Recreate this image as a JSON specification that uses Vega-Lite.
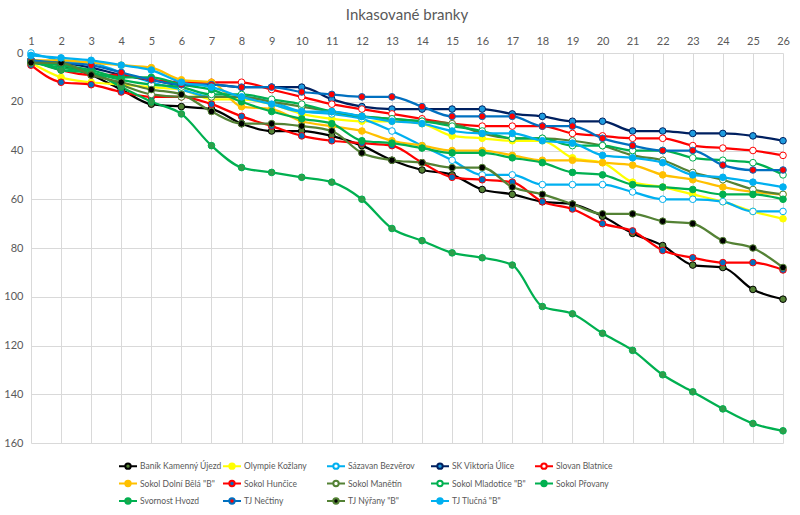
{
  "$schema": "https://vega.github.io/schema/vega-lite/v6.json",
  "width": 752,
  "height": 390,
  "autosize": "none",
  "padding": {"left": 31, "top": 53, "right": 17, "bottom": 72},
  "background": "white",
  "title": {"text": "Inkasované branky", "font": "Lato", "fontSize": 15, "fontWeight": "normal", "color": "#595959", "offset": 12, "anchor": "middle"},
  "config": {
    "view": {"stroke": null},
    "axis": {"labelFont": "Lato", "labelFontSize": 11, "labelColor": "#595959", "gridColor": "#D9D9D9", "gridWidth": 1, "domain": false, "ticks": false}
  },
  "datasets": {
    "raw": [
      {"team": "Baník Kamenný Újezd", "round": 1, "goals": 3}, {"team": "Baník Kamenný Újezd", "round": 2, "goals": 5}, {"team": "Baník Kamenný Újezd", "round": 3, "goals": 9}, {"team": "Baník Kamenný Újezd", "round": 4, "goals": 15}, {"team": "Baník Kamenný Újezd", "round": 5, "goals": 21}, {"team": "Baník Kamenný Újezd", "round": 6, "goals": 22}, {"team": "Baník Kamenný Újezd", "round": 7, "goals": 23}, {"team": "Baník Kamenný Újezd", "round": 8, "goals": 29}, {"team": "Baník Kamenný Újezd", "round": 9, "goals": 32}, {"team": "Baník Kamenný Újezd", "round": 10, "goals": 32}, {"team": "Baník Kamenný Újezd", "round": 11, "goals": 34}, {"team": "Baník Kamenný Újezd", "round": 12, "goals": 38}, {"team": "Baník Kamenný Újezd", "round": 13, "goals": 44}, {"team": "Baník Kamenný Újezd", "round": 14, "goals": 48}, {"team": "Baník Kamenný Újezd", "round": 15, "goals": 50}, {"team": "Baník Kamenný Újezd", "round": 16, "goals": 56}, {"team": "Baník Kamenný Újezd", "round": 17, "goals": 58}, {"team": "Baník Kamenný Újezd", "round": 18, "goals": 61}, {"team": "Baník Kamenný Újezd", "round": 19, "goals": 62}, {"team": "Baník Kamenný Újezd", "round": 20, "goals": 67}, {"team": "Baník Kamenný Újezd", "round": 21, "goals": 74}, {"team": "Baník Kamenný Újezd", "round": 22, "goals": 79}, {"team": "Baník Kamenný Újezd", "round": 23, "goals": 87}, {"team": "Baník Kamenný Újezd", "round": 24, "goals": 88}, {"team": "Baník Kamenný Újezd", "round": 25, "goals": 97}, {"team": "Baník Kamenný Újezd", "round": 26, "goals": 101},
      {"team": "Olympie Kožlany", "round": 1, "goals": 4}, {"team": "Olympie Kožlany", "round": 2, "goals": 10}, {"team": "Olympie Kožlany", "round": 3, "goals": 12}, {"team": "Olympie Kožlany", "round": 4, "goals": 13}, {"team": "Olympie Kožlany", "round": 5, "goals": 14}, {"team": "Olympie Kožlany", "round": 6, "goals": 15}, {"team": "Olympie Kožlany", "round": 7, "goals": 19}, {"team": "Olympie Kožlany", "round": 8, "goals": 19}, {"team": "Olympie Kožlany", "round": 9, "goals": 21}, {"team": "Olympie Kožlany", "round": 10, "goals": 25}, {"team": "Olympie Kožlany", "round": 11, "goals": 27}, {"team": "Olympie Kožlany", "round": 12, "goals": 28}, {"team": "Olympie Kožlany", "round": 13, "goals": 28}, {"team": "Olympie Kožlany", "round": 14, "goals": 29}, {"team": "Olympie Kožlany", "round": 15, "goals": 34}, {"team": "Olympie Kožlany", "round": 16, "goals": 35}, {"team": "Olympie Kožlany", "round": 17, "goals": 36}, {"team": "Olympie Kožlany", "round": 18, "goals": 36}, {"team": "Olympie Kožlany", "round": 19, "goals": 43}, {"team": "Olympie Kožlany", "round": 20, "goals": 45}, {"team": "Olympie Kožlany", "round": 21, "goals": 53}, {"team": "Olympie Kožlany", "round": 22, "goals": 55}, {"team": "Olympie Kožlany", "round": 23, "goals": 58}, {"team": "Olympie Kožlany", "round": 24, "goals": 61}, {"team": "Olympie Kožlany", "round": 25, "goals": 65}, {"team": "Olympie Kožlany", "round": 26, "goals": 68},
      {"team": "Sázavan Bezvěrov", "round": 1, "goals": 0}, {"team": "Sázavan Bezvěrov", "round": 2, "goals": 3}, {"team": "Sázavan Bezvěrov", "round": 3, "goals": 4}, {"team": "Sázavan Bezvěrov", "round": 4, "goals": 8}, {"team": "Sázavan Bezvěrov", "round": 5, "goals": 12}, {"team": "Sázavan Bezvěrov", "round": 6, "goals": 15}, {"team": "Sázavan Bezvěrov", "round": 7, "goals": 18}, {"team": "Sázavan Bezvěrov", "round": 8, "goals": 18}, {"team": "Sázavan Bezvěrov", "round": 9, "goals": 20}, {"team": "Sázavan Bezvěrov", "round": 10, "goals": 24}, {"team": "Sázavan Bezvěrov", "round": 11, "goals": 25}, {"team": "Sázavan Bezvěrov", "round": 12, "goals": 27}, {"team": "Sázavan Bezvěrov", "round": 13, "goals": 32}, {"team": "Sázavan Bezvěrov", "round": 14, "goals": 38}, {"team": "Sázavan Bezvěrov", "round": 15, "goals": 44}, {"team": "Sázavan Bezvěrov", "round": 16, "goals": 50}, {"team": "Sázavan Bezvěrov", "round": 17, "goals": 50}, {"team": "Sázavan Bezvěrov", "round": 18, "goals": 54}, {"team": "Sázavan Bezvěrov", "round": 19, "goals": 54}, {"team": "Sázavan Bezvěrov", "round": 20, "goals": 54}, {"team": "Sázavan Bezvěrov", "round": 21, "goals": 57}, {"team": "Sázavan Bezvěrov", "round": 22, "goals": 60}, {"team": "Sázavan Bezvěrov", "round": 23, "goals": 60}, {"team": "Sázavan Bezvěrov", "round": 24, "goals": 61}, {"team": "Sázavan Bezvěrov", "round": 25, "goals": 65}, {"team": "Sázavan Bezvěrov", "round": 26, "goals": 65},
      {"team": "SK Viktoria Úlice", "round": 1, "goals": 3}, {"team": "SK Viktoria Úlice", "round": 2, "goals": 4}, {"team": "SK Viktoria Úlice", "round": 3, "goals": 6}, {"team": "SK Viktoria Úlice", "round": 4, "goals": 9}, {"team": "SK Viktoria Úlice", "round": 5, "goals": 11}, {"team": "SK Viktoria Úlice", "round": 6, "goals": 13}, {"team": "SK Viktoria Úlice", "round": 7, "goals": 13}, {"team": "SK Viktoria Úlice", "round": 8, "goals": 14}, {"team": "SK Viktoria Úlice", "round": 9, "goals": 14}, {"team": "SK Viktoria Úlice", "round": 10, "goals": 14}, {"team": "SK Viktoria Úlice", "round": 11, "goals": 19}, {"team": "SK Viktoria Úlice", "round": 12, "goals": 22}, {"team": "SK Viktoria Úlice", "round": 13, "goals": 23}, {"team": "SK Viktoria Úlice", "round": 14, "goals": 23}, {"team": "SK Viktoria Úlice", "round": 15, "goals": 23}, {"team": "SK Viktoria Úlice", "round": 16, "goals": 23}, {"team": "SK Viktoria Úlice", "round": 17, "goals": 25}, {"team": "SK Viktoria Úlice", "round": 18, "goals": 26}, {"team": "SK Viktoria Úlice", "round": 19, "goals": 28}, {"team": "SK Viktoria Úlice", "round": 20, "goals": 28}, {"team": "SK Viktoria Úlice", "round": 21, "goals": 32}, {"team": "SK Viktoria Úlice", "round": 22, "goals": 32}, {"team": "SK Viktoria Úlice", "round": 23, "goals": 33}, {"team": "SK Viktoria Úlice", "round": 24, "goals": 33}, {"team": "SK Viktoria Úlice", "round": 25, "goals": 34}, {"team": "SK Viktoria Úlice", "round": 26, "goals": 36},
      {"team": "Slovan Blatnice", "round": 1, "goals": 3}, {"team": "Slovan Blatnice", "round": 2, "goals": 7}, {"team": "Slovan Blatnice", "round": 3, "goals": 9}, {"team": "Slovan Blatnice", "round": 4, "goals": 9}, {"team": "Slovan Blatnice", "round": 5, "goals": 11}, {"team": "Slovan Blatnice", "round": 6, "goals": 12}, {"team": "Slovan Blatnice", "round": 7, "goals": 12}, {"team": "Slovan Blatnice", "round": 8, "goals": 12}, {"team": "Slovan Blatnice", "round": 9, "goals": 15}, {"team": "Slovan Blatnice", "round": 10, "goals": 18}, {"team": "Slovan Blatnice", "round": 11, "goals": 21}, {"team": "Slovan Blatnice", "round": 12, "goals": 23}, {"team": "Slovan Blatnice", "round": 13, "goals": 25}, {"team": "Slovan Blatnice", "round": 14, "goals": 27}, {"team": "Slovan Blatnice", "round": 15, "goals": 29}, {"team": "Slovan Blatnice", "round": 16, "goals": 30}, {"team": "Slovan Blatnice", "round": 17, "goals": 30}, {"team": "Slovan Blatnice", "round": 18, "goals": 30}, {"team": "Slovan Blatnice", "round": 19, "goals": 33}, {"team": "Slovan Blatnice", "round": 20, "goals": 34}, {"team": "Slovan Blatnice", "round": 21, "goals": 35}, {"team": "Slovan Blatnice", "round": 22, "goals": 35}, {"team": "Slovan Blatnice", "round": 23, "goals": 38}, {"team": "Slovan Blatnice", "round": 24, "goals": 39}, {"team": "Slovan Blatnice", "round": 25, "goals": 40}, {"team": "Slovan Blatnice", "round": 26, "goals": 42},
      {"team": "Sokol Dolní Bělá \"B\"", "round": 1, "goals": 3}, {"team": "Sokol Dolní Bělá \"B\"", "round": 2, "goals": 3}, {"team": "Sokol Dolní Bělá \"B\"", "round": 3, "goals": 4}, {"team": "Sokol Dolní Bělá \"B\"", "round": 4, "goals": 5}, {"team": "Sokol Dolní Bělá \"B\"", "round": 5, "goals": 6}, {"team": "Sokol Dolní Bělá \"B\"", "round": 6, "goals": 11}, {"team": "Sokol Dolní Bělá \"B\"", "round": 7, "goals": 12}, {"team": "Sokol Dolní Bělá \"B\"", "round": 8, "goals": 22}, {"team": "Sokol Dolní Bělá \"B\"", "round": 9, "goals": 23}, {"team": "Sokol Dolní Bělá \"B\"", "round": 10, "goals": 28}, {"team": "Sokol Dolní Bělá \"B\"", "round": 11, "goals": 30}, {"team": "Sokol Dolní Bělá \"B\"", "round": 12, "goals": 32}, {"team": "Sokol Dolní Bělá \"B\"", "round": 13, "goals": 36}, {"team": "Sokol Dolní Bělá \"B\"", "round": 14, "goals": 38}, {"team": "Sokol Dolní Bělá \"B\"", "round": 15, "goals": 40}, {"team": "Sokol Dolní Bělá \"B\"", "round": 16, "goals": 40}, {"team": "Sokol Dolní Bělá \"B\"", "round": 17, "goals": 42}, {"team": "Sokol Dolní Bělá \"B\"", "round": 18, "goals": 44}, {"team": "Sokol Dolní Bělá \"B\"", "round": 19, "goals": 44}, {"team": "Sokol Dolní Bělá \"B\"", "round": 20, "goals": 45}, {"team": "Sokol Dolní Bělá \"B\"", "round": 21, "goals": 46}, {"team": "Sokol Dolní Bělá \"B\"", "round": 22, "goals": 50}, {"team": "Sokol Dolní Bělá \"B\"", "round": 23, "goals": 52}, {"team": "Sokol Dolní Bělá \"B\"", "round": 24, "goals": 55}, {"team": "Sokol Dolní Bělá \"B\"", "round": 25, "goals": 57}, {"team": "Sokol Dolní Bělá \"B\"", "round": 26, "goals": 58},
      {"team": "Sokol Hunčice", "round": 1, "goals": 5}, {"team": "Sokol Hunčice", "round": 2, "goals": 12}, {"team": "Sokol Hunčice", "round": 3, "goals": 13}, {"team": "Sokol Hunčice", "round": 4, "goals": 16}, {"team": "Sokol Hunčice", "round": 5, "goals": 18}, {"team": "Sokol Hunčice", "round": 6, "goals": 18}, {"team": "Sokol Hunčice", "round": 7, "goals": 21}, {"team": "Sokol Hunčice", "round": 8, "goals": 26}, {"team": "Sokol Hunčice", "round": 9, "goals": 30}, {"team": "Sokol Hunčice", "round": 10, "goals": 34}, {"team": "Sokol Hunčice", "round": 11, "goals": 36}, {"team": "Sokol Hunčice", "round": 12, "goals": 37}, {"team": "Sokol Hunčice", "round": 13, "goals": 38}, {"team": "Sokol Hunčice", "round": 14, "goals": 45}, {"team": "Sokol Hunčice", "round": 15, "goals": 51}, {"team": "Sokol Hunčice", "round": 16, "goals": 52}, {"team": "Sokol Hunčice", "round": 17, "goals": 53}, {"team": "Sokol Hunčice", "round": 18, "goals": 61}, {"team": "Sokol Hunčice", "round": 19, "goals": 64}, {"team": "Sokol Hunčice", "round": 20, "goals": 70}, {"team": "Sokol Hunčice", "round": 21, "goals": 73}, {"team": "Sokol Hunčice", "round": 22, "goals": 81}, {"team": "Sokol Hunčice", "round": 23, "goals": 84}, {"team": "Sokol Hunčice", "round": 24, "goals": 86}, {"team": "Sokol Hunčice", "round": 25, "goals": 86}, {"team": "Sokol Hunčice", "round": 26, "goals": 89},
      {"team": "Sokol Manětín", "round": 1, "goals": 3}, {"team": "Sokol Manětín", "round": 2, "goals": 5}, {"team": "Sokol Manětín", "round": 3, "goals": 8}, {"team": "Sokol Manětín", "round": 4, "goals": 13}, {"team": "Sokol Manětín", "round": 5, "goals": 17}, {"team": "Sokol Manětín", "round": 6, "goals": 18}, {"team": "Sokol Manětín", "round": 7, "goals": 18}, {"team": "Sokol Manětín", "round": 8, "goals": 18}, {"team": "Sokol Manětín", "round": 9, "goals": 20}, {"team": "Sokol Manětín", "round": 10, "goals": 22}, {"team": "Sokol Manětín", "round": 11, "goals": 24}, {"team": "Sokol Manětín", "round": 12, "goals": 26}, {"team": "Sokol Manětín", "round": 13, "goals": 27}, {"team": "Sokol Manětín", "round": 14, "goals": 28}, {"team": "Sokol Manětín", "round": 15, "goals": 29}, {"team": "Sokol Manětín", "round": 16, "goals": 33}, {"team": "Sokol Manětín", "round": 17, "goals": 35}, {"team": "Sokol Manětín", "round": 18, "goals": 35}, {"team": "Sokol Manětín", "round": 19, "goals": 36}, {"team": "Sokol Manětín", "round": 20, "goals": 38}, {"team": "Sokol Manětín", "round": 21, "goals": 42}, {"team": "Sokol Manětín", "round": 22, "goals": 44}, {"team": "Sokol Manětín", "round": 23, "goals": 49}, {"team": "Sokol Manětín", "round": 24, "goals": 52}, {"team": "Sokol Manětín", "round": 25, "goals": 56}, {"team": "Sokol Manětín", "round": 26, "goals": 58},
      {"team": "Sokol Mladotice \"B\"", "round": 1, "goals": 4}, {"team": "Sokol Mladotice \"B\"", "round": 2, "goals": 6}, {"team": "Sokol Mladotice \"B\"", "round": 3, "goals": 8}, {"team": "Sokol Mladotice \"B\"", "round": 4, "goals": 11}, {"team": "Sokol Mladotice \"B\"", "round": 5, "goals": 13}, {"team": "Sokol Mladotice \"B\"", "round": 6, "goals": 14}, {"team": "Sokol Mladotice \"B\"", "round": 7, "goals": 17}, {"team": "Sokol Mladotice \"B\"", "round": 8, "goals": 17}, {"team": "Sokol Mladotice \"B\"", "round": 9, "goals": 19}, {"team": "Sokol Mladotice \"B\"", "round": 10, "goals": 21}, {"team": "Sokol Mladotice \"B\"", "round": 11, "goals": 24}, {"team": "Sokol Mladotice \"B\"", "round": 12, "goals": 26}, {"team": "Sokol Mladotice \"B\"", "round": 13, "goals": 27}, {"team": "Sokol Mladotice \"B\"", "round": 14, "goals": 28}, {"team": "Sokol Mladotice \"B\"", "round": 15, "goals": 30}, {"team": "Sokol Mladotice \"B\"", "round": 16, "goals": 32}, {"team": "Sokol Mladotice \"B\"", "round": 17, "goals": 35}, {"team": "Sokol Mladotice \"B\"", "round": 18, "goals": 35}, {"team": "Sokol Mladotice \"B\"", "round": 19, "goals": 38}, {"team": "Sokol Mladotice \"B\"", "round": 20, "goals": 38}, {"team": "Sokol Mladotice \"B\"", "round": 21, "goals": 40}, {"team": "Sokol Mladotice \"B\"", "round": 22, "goals": 40}, {"team": "Sokol Mladotice \"B\"", "round": 23, "goals": 43}, {"team": "Sokol Mladotice \"B\"", "round": 24, "goals": 44}, {"team": "Sokol Mladotice \"B\"", "round": 25, "goals": 45}, {"team": "Sokol Mladotice \"B\"", "round": 26, "goals": 50},
      {"team": "Sokol Přovany", "round": 1, "goals": 4}, {"team": "Sokol Přovany", "round": 2, "goals": 5}, {"team": "Sokol Přovany", "round": 3, "goals": 7}, {"team": "Sokol Přovany", "round": 4, "goals": 10}, {"team": "Sokol Přovany", "round": 5, "goals": 10}, {"team": "Sokol Přovany", "round": 6, "goals": 13}, {"team": "Sokol Přovany", "round": 7, "goals": 15}, {"team": "Sokol Přovany", "round": 8, "goals": 20}, {"team": "Sokol Přovany", "round": 9, "goals": 24}, {"team": "Sokol Přovany", "round": 10, "goals": 27}, {"team": "Sokol Přovany", "round": 11, "goals": 29}, {"team": "Sokol Přovany", "round": 12, "goals": 36}, {"team": "Sokol Přovany", "round": 13, "goals": 37}, {"team": "Sokol Přovany", "round": 14, "goals": 39}, {"team": "Sokol Přovany", "round": 15, "goals": 41}, {"team": "Sokol Přovany", "round": 16, "goals": 41}, {"team": "Sokol Přovany", "round": 17, "goals": 43}, {"team": "Sokol Přovany", "round": 18, "goals": 45}, {"team": "Sokol Přovany", "round": 19, "goals": 49}, {"team": "Sokol Přovany", "round": 20, "goals": 50}, {"team": "Sokol Přovany", "round": 21, "goals": 54}, {"team": "Sokol Přovany", "round": 22, "goals": 55}, {"team": "Sokol Přovany", "round": 23, "goals": 56}, {"team": "Sokol Přovany", "round": 24, "goals": 58}, {"team": "Sokol Přovany", "round": 25, "goals": 58}, {"team": "Sokol Přovany", "round": 26, "goals": 60},
      {"team": "Svornost Hvozd", "round": 1, "goals": 3}, {"team": "Svornost Hvozd", "round": 2, "goals": 7}, {"team": "Svornost Hvozd", "round": 3, "goals": 8}, {"team": "Svornost Hvozd", "round": 4, "goals": 14}, {"team": "Svornost Hvozd", "round": 5, "goals": 20}, {"team": "Svornost Hvozd", "round": 6, "goals": 25}, {"team": "Svornost Hvozd", "round": 7, "goals": 38}, {"team": "Svornost Hvozd", "round": 8, "goals": 47}, {"team": "Svornost Hvozd", "round": 9, "goals": 49}, {"team": "Svornost Hvozd", "round": 10, "goals": 51}, {"team": "Svornost Hvozd", "round": 11, "goals": 53}, {"team": "Svornost Hvozd", "round": 12, "goals": 60}, {"team": "Svornost Hvozd", "round": 13, "goals": 72}, {"team": "Svornost Hvozd", "round": 14, "goals": 77}, {"team": "Svornost Hvozd", "round": 15, "goals": 82}, {"team": "Svornost Hvozd", "round": 16, "goals": 84}, {"team": "Svornost Hvozd", "round": 17, "goals": 87}, {"team": "Svornost Hvozd", "round": 18, "goals": 104}, {"team": "Svornost Hvozd", "round": 19, "goals": 107}, {"team": "Svornost Hvozd", "round": 20, "goals": 115}, {"team": "Svornost Hvozd", "round": 21, "goals": 122}, {"team": "Svornost Hvozd", "round": 22, "goals": 132}, {"team": "Svornost Hvozd", "round": 23, "goals": 139}, {"team": "Svornost Hvozd", "round": 24, "goals": 146}, {"team": "Svornost Hvozd", "round": 25, "goals": 152}, {"team": "Svornost Hvozd", "round": 26, "goals": 155},
      {"team": "TJ Nečtiny", "round": 1, "goals": 3}, {"team": "TJ Nečtiny", "round": 2, "goals": 4}, {"team": "TJ Nečtiny", "round": 3, "goals": 5}, {"team": "TJ Nečtiny", "round": 4, "goals": 8}, {"team": "TJ Nečtiny", "round": 5, "goals": 11}, {"team": "TJ Nečtiny", "round": 6, "goals": 13}, {"team": "TJ Nečtiny", "round": 7, "goals": 13}, {"team": "TJ Nečtiny", "round": 8, "goals": 14}, {"team": "TJ Nečtiny", "round": 9, "goals": 14}, {"team": "TJ Nečtiny", "round": 10, "goals": 16}, {"team": "TJ Nečtiny", "round": 11, "goals": 17}, {"team": "TJ Nečtiny", "round": 12, "goals": 18}, {"team": "TJ Nečtiny", "round": 13, "goals": 18}, {"team": "TJ Nečtiny", "round": 14, "goals": 22}, {"team": "TJ Nečtiny", "round": 15, "goals": 26}, {"team": "TJ Nečtiny", "round": 16, "goals": 26}, {"team": "TJ Nečtiny", "round": 17, "goals": 26}, {"team": "TJ Nečtiny", "round": 18, "goals": 30}, {"team": "TJ Nečtiny", "round": 19, "goals": 30}, {"team": "TJ Nečtiny", "round": 20, "goals": 35}, {"team": "TJ Nečtiny", "round": 21, "goals": 38}, {"team": "TJ Nečtiny", "round": 22, "goals": 40}, {"team": "TJ Nečtiny", "round": 23, "goals": 40}, {"team": "TJ Nečtiny", "round": 24, "goals": 46}, {"team": "TJ Nečtiny", "round": 25, "goals": 48}, {"team": "TJ Nečtiny", "round": 26, "goals": 48},
      {"team": "TJ Nýřany \"B\"", "round": 1, "goals": 4}, {"team": "TJ Nýřany \"B\"", "round": 2, "goals": 4}, {"team": "TJ Nýřany \"B\"", "round": 3, "goals": 9}, {"team": "TJ Nýřany \"B\"", "round": 4, "goals": 12}, {"team": "TJ Nýřany \"B\"", "round": 5, "goals": 15}, {"team": "TJ Nýřany \"B\"", "round": 6, "goals": 17}, {"team": "TJ Nýřany \"B\"", "round": 7, "goals": 24}, {"team": "TJ Nýřany \"B\"", "round": 8, "goals": 29}, {"team": "TJ Nýřany \"B\"", "round": 9, "goals": 29}, {"team": "TJ Nýřany \"B\"", "round": 10, "goals": 30}, {"team": "TJ Nýřany \"B\"", "round": 11, "goals": 32}, {"team": "TJ Nýřany \"B\"", "round": 12, "goals": 41}, {"team": "TJ Nýřany \"B\"", "round": 13, "goals": 44}, {"team": "TJ Nýřany \"B\"", "round": 14, "goals": 45}, {"team": "TJ Nýřany \"B\"", "round": 15, "goals": 47}, {"team": "TJ Nýřany \"B\"", "round": 16, "goals": 47}, {"team": "TJ Nýřany \"B\"", "round": 17, "goals": 55}, {"team": "TJ Nýřany \"B\"", "round": 18, "goals": 58}, {"team": "TJ Nýřany \"B\"", "round": 19, "goals": 62}, {"team": "TJ Nýřany \"B\"", "round": 20, "goals": 66}, {"team": "TJ Nýřany \"B\"", "round": 21, "goals": 66}, {"team": "TJ Nýřany \"B\"", "round": 22, "goals": 69}, {"team": "TJ Nýřany \"B\"", "round": 23, "goals": 70}, {"team": "TJ Nýřany \"B\"", "round": 24, "goals": 77}, {"team": "TJ Nýřany \"B\"", "round": 25, "goals": 80}, {"team": "TJ Nýřany \"B\"", "round": 26, "goals": 88},
      {"team": "TJ Tlučná \"B\"", "round": 1, "goals": 1}, {"team": "TJ Tlučná \"B\"", "round": 2, "goals": 2}, {"team": "TJ Tlučná \"B\"", "round": 3, "goals": 3}, {"team": "TJ Tlučná \"B\"", "round": 4, "goals": 5}, {"team": "TJ Tlučná \"B\"", "round": 5, "goals": 7}, {"team": "TJ Tlučná \"B\"", "round": 6, "goals": 12}, {"team": "TJ Tlučná \"B\"", "round": 7, "goals": 14}, {"team": "TJ Tlučná \"B\"", "round": 8, "goals": 18}, {"team": "TJ Tlučná \"B\"", "round": 9, "goals": 21}, {"team": "TJ Tlučná \"B\"", "round": 10, "goals": 24}, {"team": "TJ Tlučná \"B\"", "round": 11, "goals": 24}, {"team": "TJ Tlučná \"B\"", "round": 12, "goals": 26}, {"team": "TJ Tlučná \"B\"", "round": 13, "goals": 28}, {"team": "TJ Tlučná \"B\"", "round": 14, "goals": 29}, {"team": "TJ Tlučná \"B\"", "round": 15, "goals": 32}, {"team": "TJ Tlučná \"B\"", "round": 16, "goals": 33}, {"team": "TJ Tlučná \"B\"", "round": 17, "goals": 33}, {"team": "TJ Tlučná \"B\"", "round": 18, "goals": 36}, {"team": "TJ Tlučná \"B\"", "round": 19, "goals": 37}, {"team": "TJ Tlučná \"B\"", "round": 20, "goals": 42}, {"team": "TJ Tlučná \"B\"", "round": 21, "goals": 43}, {"team": "TJ Tlučná \"B\"", "round": 22, "goals": 45}, {"team": "TJ Tlučná \"B\"", "round": 23, "goals": 50}, {"team": "TJ Tlučná \"B\"", "round": 24, "goals": 51}, {"team": "TJ Tlučná \"B\"", "round": 25, "goals": 53}, {"team": "TJ Tlučná \"B\"", "round": 26, "goals": 55}
    ]
  },
  "data": {"name": "raw"},
  "encoding": {
    "x": {"field": "round", "type": "quantitative", "scale": {"domain": [1, 26], "nice": false, "zero": false},
      "axis": {"orient": "top", "values": [1,2,3,4,5,6,7,8,9,10,11,12,13,14,15,16,17,18,19,20,21,22,23,24,25,26], "title": null, "labelPadding": 7, "grid": true, "labelFlush": false}},
    "y": {"field": "goals", "type": "quantitative", "scale": {"domain": [0, 160], "reverse": true, "nice": false},
      "axis": {"values": [0,20,40,60,80,100,120,140,160], "title": null, "labelPadding": 8, "grid": true, "labelFlush": false}}
  },
  "layer": [
    {
      "mark": {"type": "line", "interpolate": "monotone", "strokeWidth": 2.25},
      "encoding": {
        "stroke": {"field": "team", "type": "nominal",
          "scale": {
            "domain": ["Baník Kamenný Újezd", "Olympie Kožlany", "Sázavan Bezvěrov", "SK Viktoria Úlice", "Slovan Blatnice", "Sokol Dolní Bělá \"B\"", "Sokol Hunčice", "Sokol Manětín", "Sokol Mladotice \"B\"", "Sokol Přovany", "Svornost Hvozd", "TJ Nečtiny", "TJ Nýřany \"B\"", "TJ Tlučná \"B\""],
            "range": ["#000000", "#FFFF00", "#00B0F0", "#002060", "#FF0000", "#FFC000", "#FF0000", "#548235", "#00B050", "#00B050", "#00B050", "#0070C0", "#548235", "#00B0F0"]
          },
          "legend": {
            "orient": "none", "legendX": 87, "legendY": 403, "columns": 5, "direction": "horizontal", "title": null,
            "gridAlign": "all", "columnPadding": -16, "rowPadding": 0.5,
            "labelFont": "Lato", "labelFontSize": 8.5, "labelColor": "#595959", "labelOffset": 2, "labelLimit": 0,
            "symbolType": "M-1,0L-0.3,0M0.3,0L1,0M-0.3,0A0.3,0.3,0,1,1,0.3,0A0.3,0.3,0,1,1,-0.3,0Z",
            "symbolSize": 324, "symbolStrokeWidth": 2,
            "encode": {"symbols": {"update": {"fill": {"scale": "fill", "field": "value"}, "stroke": {"scale": "stroke", "field": "value"}, "opacity": {"value": 1}, "fillOpacity": {"value": 1}}}}
          }
        }
      }
    },
    {
      "mark": {"type": "point", "filled": true, "size": 44, "strokeWidth": 1, "opacity": 1},
      "encoding": {
        "fill": {"field": "team", "type": "nominal",
          "scale": {
            "domain": ["Baník Kamenný Újezd", "Olympie Kožlany", "Sázavan Bezvěrov", "SK Viktoria Úlice", "Slovan Blatnice", "Sokol Dolní Bělá \"B\"", "Sokol Hunčice", "Sokol Manětín", "Sokol Mladotice \"B\"", "Sokol Přovany", "Svornost Hvozd", "TJ Nečtiny", "TJ Nýřany \"B\"", "TJ Tlučná \"B\""],
            "range": ["#548235", "#FFFF00", "#FFFFFF", "#1E9BDE", "#FFFFFF", "#FFC000", "#0070C0", "#FFFFFF", "#FFFFFF", "#00B050", "#2E9E4A", "#FF0000", "#000000", "#00B0F0"]
          },
          "legend": null},
        "stroke": {"field": "team", "type": "nominal", "legend": null}
      }
    }
  ]
}
